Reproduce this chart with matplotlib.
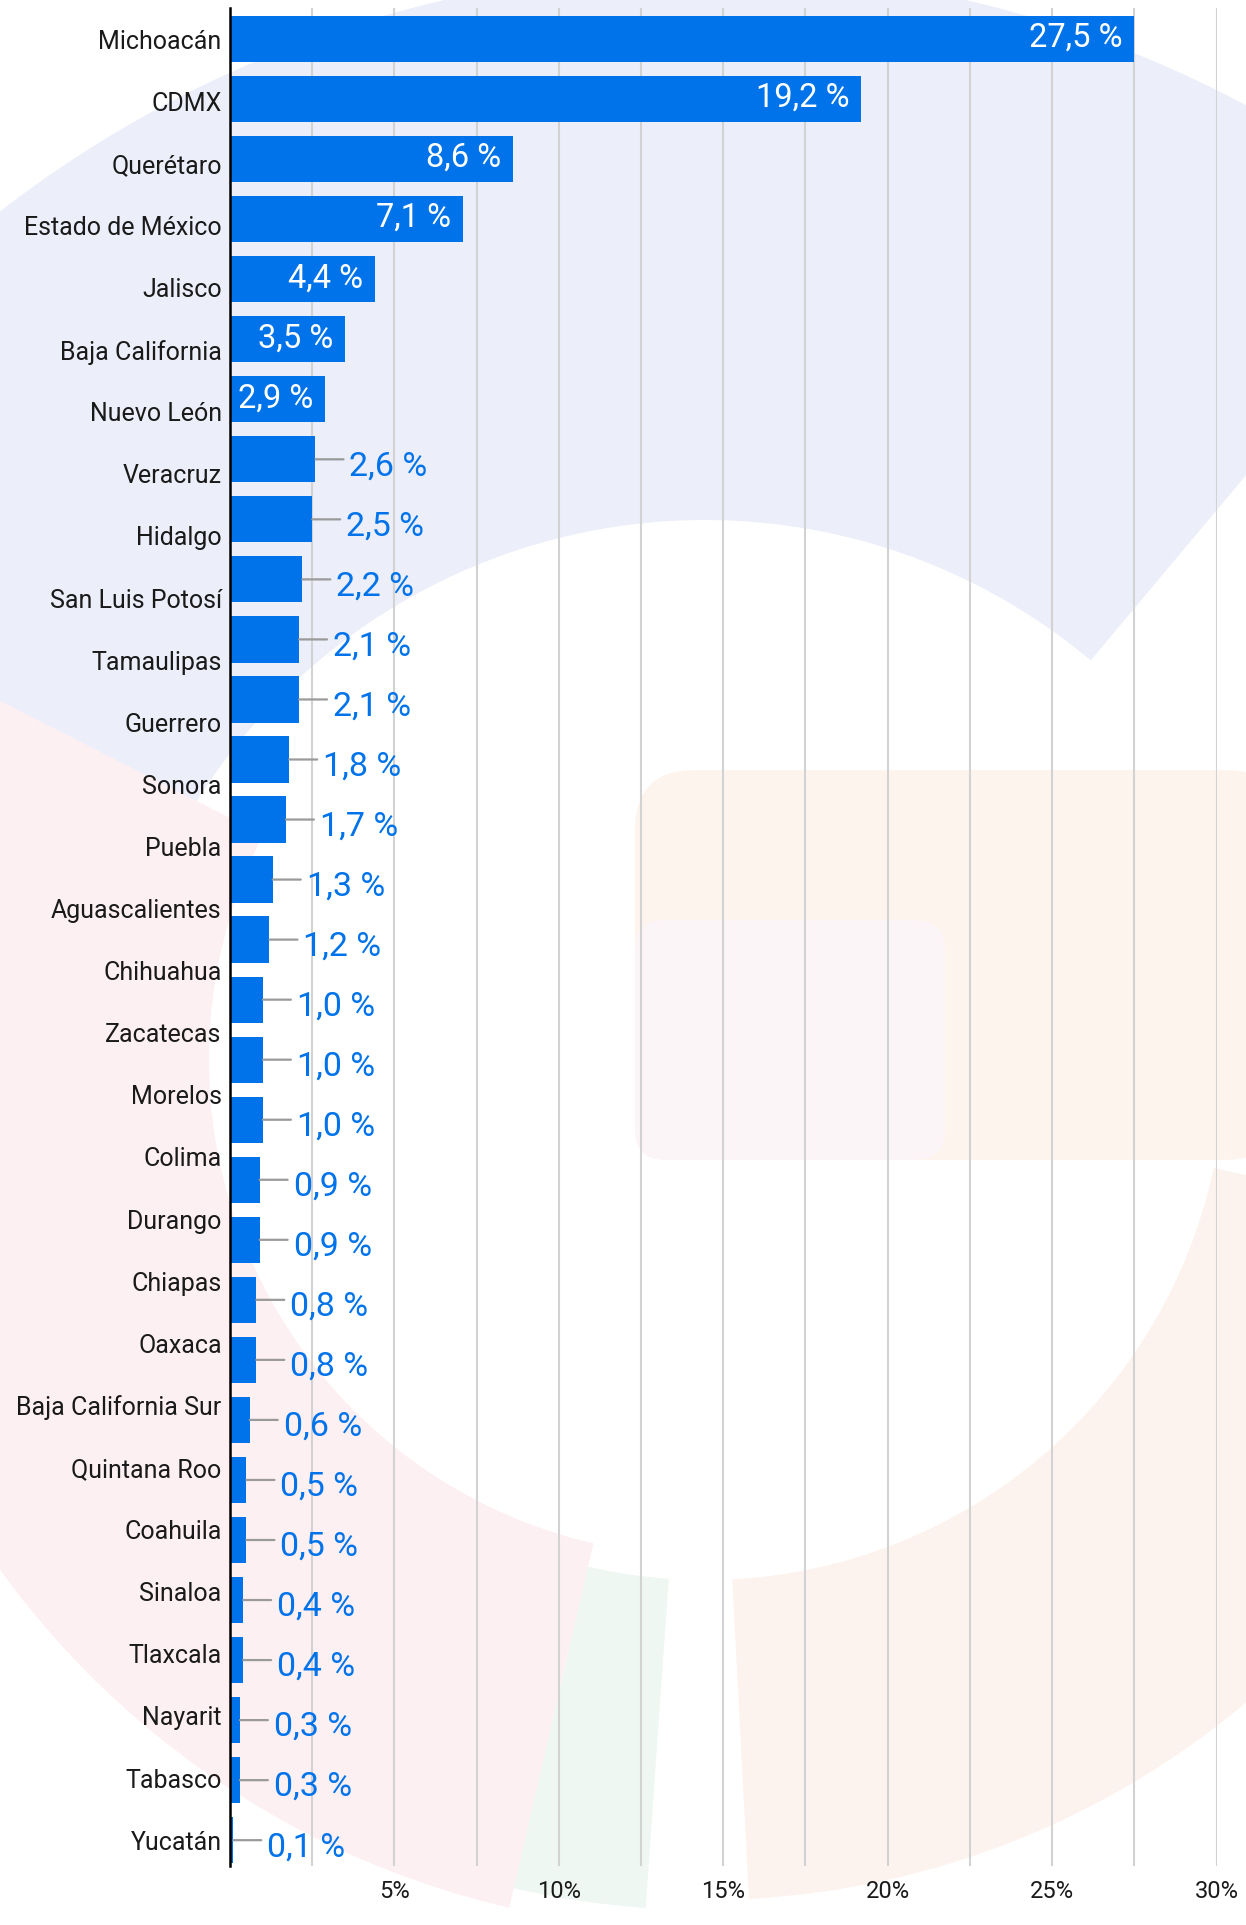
import matplotlib
matplotlib.use("Agg")
import matplotlib.pyplot as plt
from matplotlib.patches import Wedge, FancyBboxPatch
import numpy as np

plt.rcParams['font.family'] = ['Roboto', 'DejaVu Sans']

# chart data (30 state labels, 31 bars as in the source chart)
estados = ["Michoacán", "CDMX", "Querétaro", "Estado de México", "Jalisco",
           "Baja California", "Nuevo León", "Veracruz", "Hidalgo",
           "San Luis Potosí", "Tamaulipas", "Guerrero", "Sonora", "Puebla",
           "Aguascalientes", "Chihuahua", "Zacatecas", "Morelos", "Colima",
           "Durango", "Chiapas", "Oaxaca", "Baja California Sur",
           "Quintana Roo", "Coahuila", "Sinaloa", "Tlaxcala", "Nayarit",
           "Tabasco", "Yucatán"]
porcentajes = [27.5, 19.2, 8.6, 7.1, 4.4, 3.5, 2.9, 2.6, 2.5, 2.2, 2.1, 2.1,
               1.8, 1.7, 1.3, 1.2, 1.0, 1.0, 1.0, 0.9, 0.9, 0.8, 0.8, 0.6,
               0.5, 0.5, 0.4, 0.4, 0.3, 0.3, 0.1]
ticks_x = [5, 10, 15, 20, 25, 30]
tick_labels = ["5%", "10%", "15%", "20%", "25%", "30%"]

AZUL = "#0073ea"
W, H = 1246, 1925

fig = plt.figure(figsize=(W / 100, H / 100), dpi=100)
fig.patch.set_facecolor("white")

# faint watermark logo in the background
bg = fig.add_axes([0, 0, 1, 1], zorder=0)
bg.set_xlim(0, W)
bg.set_ylim(0, H)
bg.axis("off")


def Y(y):
    return H - y


bg.add_patch(Wedge((705, Y(1120)), 1150, 50, 153, width=550,
                   facecolor="#eceef9", edgecolor="none"))
bg.add_patch(Wedge((705, Y(1060)), 870, 153, 257, width=374,
                   facecolor="#fdf0f3", edgecolor="none"))
bg.add_patch(Wedge((705, Y(1060)), 850, 257, 266, width=330,
                   facecolor="#eef7f1", edgecolor="none"))
bg.add_patch(Wedge((705, Y(1060)), 840, 273, 348, width=320,
                   facecolor="#fdf3ee", edgecolor="none"))
bg.add_patch(FancyBboxPatch((635, Y(1160)), 650, 390,
                            boxstyle="round,pad=0,rounding_size=60",
                            facecolor="#fdf4ee", edgecolor="none"))
bg.add_patch(FancyBboxPatch((635, Y(1160)), 310, 240,
                            boxstyle="round,pad=0,rounding_size=30",
                            facecolor="#fcf5f7", edgecolor="none"))

ax = fig.add_axes([230 / W, 1 - 1866 / H, 986.5 / W, 1858 / H], zorder=1)
ax.set_facecolor("none")

pos = np.arange(len(porcentajes))
ax.barh(pos, porcentajes, height=0.77, color=AZUL, zorder=3)

ax.set_xlim(0, 30)
ax.set_ylim(len(porcentajes) - 0.57, -0.517)

# category labels spread over the bar range (one label fewer than bars)
ax.set_yticks(np.linspace(0, len(porcentajes) - 1, len(estados)))
ax.set_yticklabels(estados, fontsize=18, color="#1a1a1a")

ax.set_xticks(ticks_x)
ax.set_xticklabels(tick_labels, fontsize=17, color="#1a1a1a")
ax.set_xticks(np.arange(2.5, 30.1, 2.5), minor=True)
ax.tick_params(axis="both", which="both", length=0)
ax.tick_params(axis="y", pad=6)
ax.tick_params(axis="x", pad=10)

ax.grid(True, axis="x", which="both", color="#d2d2d2", linewidth=1.5, zorder=1)
ax.set_axisbelow(True)

for s in ["top", "right", "bottom"]:
    ax.spines[s].set_visible(False)
ax.spines["left"].set_color("black")
ax.spines["left"].set_linewidth(1.8)
ax.spines["left"].set_zorder(4)

for p, v in zip(pos, porcentajes):
    txt = f"{v:.1f}".replace(".", ",") + " %"
    if v >= 2.8:
        ax.annotate(txt, (v, p), xytext=(-12, -8), textcoords="offset pixels",
                    ha="right", va="baseline", fontsize=23.5, color="white",
                    zorder=5)
    else:
        ax.annotate("", (v, p), xytext=(28, 0), textcoords="offset pixels",
                    arrowprops=dict(arrowstyle="-", color="#9a9a9a", lw=1.6,
                                    shrinkA=0, shrinkB=0), zorder=4)
        ax.annotate(txt, (v, p), xytext=(34, -16), textcoords="offset pixels",
                    ha="left", va="baseline", fontsize=24.5, color=AZUL,
                    zorder=5)

fig.savefig("out.png", dpi=100, facecolor=fig.get_facecolor())
